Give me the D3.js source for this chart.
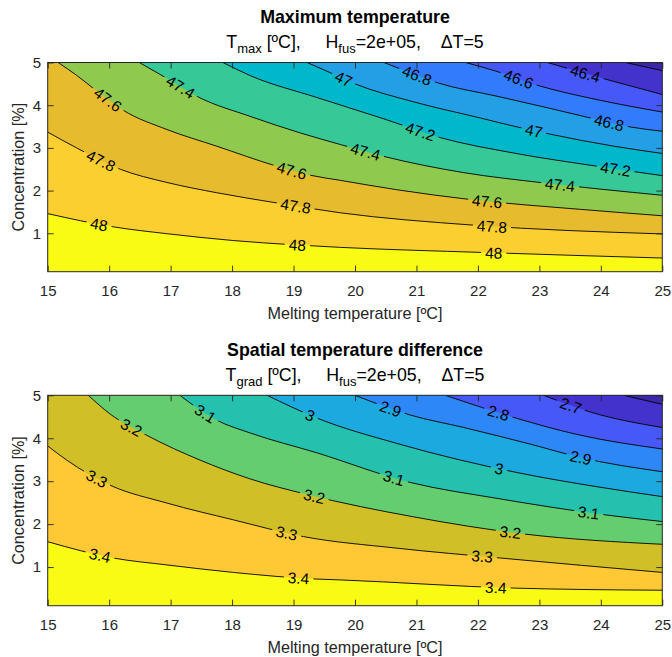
<!DOCTYPE html>
<html>
<head>
<meta charset="utf-8">
<script src="https://cdn.jsdelivr.net/npm/d3@7"></script>
<style>
  body { margin: 0; background: #fff; }
  svg text { font-family: "Liberation Sans", Arial, Helvetica, sans-serif; }
</style>
</head>
<body>
<svg id="fig" width="672" height="657"></svg>
<script>
// ---- axis ticks -------------------------------------------------------
const meltTicks = [15, 16, 17, 18, 19, 20, 21, 22, 23, 24, 25];
const concTicks = [1, 2, 3, 4, 5];
const meltRange = [15, 25];
const concRange = [0.1, 5];

// ---- maximum temperature: iso-lines as [melting T, concentration] ------
const tmaxLevels = [48, 47.8, 47.6, 47.4, 47.2, 47, 46.8, 46.6, 46.4, 46.2];
const tmaxLines = [
  [[15,1.46],[16.07,1.15],[16.94,0.99],[18.02,0.83],[19.0,0.73],[19.76,0.67],[22.09,0.55],[25,0.42]],
  [[15,3.37],[15.47,3.0],[16.18,2.5],[16.94,2.19],[17.75,1.95],[18.73,1.71],[19.76,1.48],[21.93,1.19],[25,0.985]],
  [[15.17,5],[15.47,4.7],[15.8,4.33],[16.23,3.88],[16.94,3.43],[17.75,3.04],[18.73,2.57],[19.27,2.36],[19.76,2.24],[20.68,2.02],[21.88,1.79],[23.67,1.56],[25,1.41]],
  [[16.49,5],[16.83,4.72],[17.48,4.17],[18.29,3.74],[19.11,3.35],[19.76,3.08],[20.47,2.8],[21.77,2.42],[23.07,2.18],[25,1.89]],
  [[17.85,5],[18.3,4.69],[19.38,4.18],[20.47,3.68],[21.39,3.24],[22.58,2.88],[23.94,2.57],[25,2.35]],
  [[19.22,5],[19.6,4.76],[20.0,4.5],[20.95,4.08],[22.04,3.7],[22.58,3.51],[23.18,3.32],[24.21,3.04],[25,2.87]],
  [[20.47,5],[20.74,4.85],[21.33,4.53],[22.31,4.21],[23.13,3.94],[23.83,3.7],[24.48,3.49],[25,3.39]],
  [[21.8,5],[22.31,4.79],[22.96,4.47],[23.94,4.13],[25,3.84]],
  [[23.13,5],[23.75,4.74],[24.1,4.6],[25,4.25]],
  [[24.4,5],[25,4.81]]
];
// inline contour labels: [level, melting T, concentration]
const tmaxLabels = [
  [48,15.84,1.22],[48,19.06,0.7],[48,22.26,0.53],
  [47.8,15.88,2.73],[47.8,19.03,1.6],[47.8,22.23,1.13],
  [47.6,15.96,4.09],[47.6,18.97,2.45],[47.6,22.15,1.75],
  [47.4,17.15,4.4],[47.4,20.17,2.9],[47.4,23.34,2.14],
  [47.2,21.06,3.35],[47.2,24.24,2.5],
  [47,19.81,4.6],[47,22.91,3.38],
  [46.8,21.01,4.7],[46.8,24.13,3.58],
  [46.6,22.66,4.6],
  [46.4,23.75,4.74]
];

// ---- spatial temperature difference -----------------------------------
const tgradLevels = [3.4, 3.3, 3.2, 3.1, 3.0, 2.9, 2.8, 2.7, 2.6];
const tgradLines = [
  [[15,1.59],[16.07,1.21],[16.94,1.05],[18.02,0.875],[19.38,0.72],[19.76,0.7],[22.58,0.51],[25,0.46]],
  [[15,3.82],[15.31,3.49],[16.01,2.91],[16.94,2.49],[18.02,2.1],[19.16,1.71],[20.68,1.44],[22.37,1.21],[25,0.875]],
  [[15.66,5],[16.01,4.57],[16.61,4.07],[17.48,3.49],[18.3,3.05],[19.22,2.69],[20.95,2.17],[22.75,1.77],[25,1.53]],
  [[17.15,5],[17.75,4.42],[18.3,4.12],[19.38,3.66],[20.9,2.97],[22.31,2.6],[24.1,2.21],[25,2.06]],
  [[18.57,5],[19.38,4.47],[20.68,3.88],[22.64,3.2],[23.94,2.87],[25,2.64]],
  [[20.0,5],[20.9,4.54],[21.77,4.25],[22.86,3.86],[23.67,3.55],[25,3.22]],
  [[21.47,5],[22.64,4.46],[23.67,4.07],[25,3.75]],
  [[23.07,5],[23.83,4.61],[25,4.25]],
  [[24.37,5],[25,4.79]]
];
const tgradLabels = [
  [3.4,15.85,1.29],[3.4,19.08,0.75],[3.4,22.29,0.52],
  [3.3,15.8,3.07],[3.3,18.89,1.78],[3.3,22.07,1.24],
  [3.2,16.37,4.26],[3.2,19.33,2.62],[3.2,22.53,1.82],
  [3.1,17.56,4.55],[3.1,20.63,3.05],[3.1,23.8,2.27],
  [3,19.27,4.54],[3,22.34,3.27],
  [2.9,20.57,4.65],[2.9,23.67,3.5],
  [2.8,22.34,4.6],
  [2.7,23.51,4.75]
];

// parula band colours: warmest band first, then the band just below each level
const tmaxBands = ['#F9FB14','#FCCF30','#E6BB2D','#8FCA4E','#37C897','#01B8CA','#23A0E5','#327CFC','#4758F8','#4332CB','#3E26A8'];
const tgradBands = ['#F9FB14','#FEC934','#D1BF27','#64CD6F','#24C1AE','#1CA9DF','#2E87F7','#4758F8','#4332CB','#3E26A8'];

// ---- drawing ----------------------------------------------------------
const svg = d3.select('#fig');
const axisColor = '#262626';
const left = 47.7, right = 662.3;

const panels = [
  { id: 'tmax', top: 62.5, bottom: 271.7, title: 'Maximum temperature', sub: 'max',
    levels: tmaxLevels, lines: tmaxLines, labels: tmaxLabels, bands: tmaxBands },
  { id: 'tgrad', top: 395.3, bottom: 605.7, title: 'Spatial temperature difference', sub: 'grad',
    levels: tgradLevels, lines: tgradLines, labels: tgradLabels, bands: tgradBands }
];

panels.forEach(p => {
  const x = d3.scaleLinear().domain(meltRange).range([left, right]);
  const y = d3.scaleLinear().domain(concRange).range([p.bottom, p.top]);
  const g = svg.append('g');
  const defs = g.append('defs');

  defs.append('clipPath').attr('id', 'clip-' + p.id)
    .append('rect').attr('x', left).attr('y', p.top)
    .attr('width', right - left).attr('height', p.bottom - p.top);

  const mask = defs.append('mask').attr('id', 'gap-' + p.id)
    .attr('maskUnits', 'userSpaceOnUse')
    .attr('x', 0).attr('y', 0).attr('width', 672).attr('height', 657);
  mask.append('rect').attr('x', 0).attr('y', 0).attr('width', 672).attr('height', 657).attr('fill', '#fff');

  const lineGen = d3.line().x(d => x(d[0])).y(d => y(d[1])).curve(d3.curveMonotoneX);

  // filled bands, painted from the warmest corner toward the coolest
  const fills = g.append('g').attr('clip-path', `url(#clip-${p.id})`);
  fills.append('rect').attr('x', left).attr('y', p.top)
    .attr('width', right - left).attr('height', p.bottom - p.top)
    .attr('fill', p.bands[0]);
  p.lines.forEach((pts, i) => {
    const start = pts[0];
    let d = lineGen(pts) + `L${x(meltRange[1])},${y(concRange[1])}`;
    if (start[0] <= meltRange[0]) d += `L${x(meltRange[0])},${y(concRange[1])}`;
    d += 'Z';
    fills.append('path').attr('d', d).attr('fill', p.bands[i + 1]).attr('stroke', 'none');
  });

  // iso-lines
  const lineG = g.append('g').attr('clip-path', `url(#clip-${p.id})`)
    .append('g').attr('mask', `url(#gap-${p.id})`);
  const paths = p.lines.map(pts =>
    lineG.append('path').attr('d', lineGen(pts)).attr('fill', 'none')
      .attr('stroke', '#000').attr('stroke-width', 0.9).node());

  // inline labels, placed on the nearest point of their line and turned along it
  const labelG = g.append('g');
  p.labels.forEach(([lev, lx, ly]) => {
    const k = p.levels.indexOf(lev);
    const path = paths[k];
    const total = path.getTotalLength();
    const tx = x(lx), ty = y(ly);
    let best = 0, bestD = Infinity;
    for (let s = 0; s <= total; s += 0.5) {
      const pt = path.getPointAtLength(s);
      const dd = (pt.x - tx) ** 2 + (pt.y - ty) ** 2;
      if (dd < bestD) { bestD = dd; best = s; }
    }
    const c = path.getPointAtLength(best);
    const a = path.getPointAtLength(Math.max(0, best - 4));
    const b = path.getPointAtLength(Math.min(total, best + 4));
    let ang = Math.atan2(b.y - a.y, b.x - a.x) * 180 / Math.PI;
    if (ang > 90) ang -= 180;
    if (ang < -90) ang += 180;
    const t = labelG.append('text')
      .attr('transform', `translate(${c.x},${c.y}) rotate(${ang})`)
      .attr('text-anchor', 'middle').attr('dy', '0.36em')
      .attr('font-size', 15.5).attr('fill', '#000')
      .text(String(lev));
    const w = t.node().getComputedTextLength();
    mask.append('rect')
      .attr('x', -w / 2 - 4).attr('y', -7).attr('width', w + 8).attr('height', 14)
      .attr('transform', `translate(${c.x},${c.y}) rotate(${ang})`)
      .attr('fill', '#000');
  });

  // axes with inward ticks on all four sides
  const tickLen = 6;
  const axB = g.append('g').attr('transform', `translate(0,${p.bottom})`)
    .call(d3.axisBottom(x).tickValues(meltTicks).tickFormat(d3.format('d'))
      .tickSize(-tickLen).tickSizeOuter(0).tickPadding(13.5));
  const axT = g.append('g').attr('transform', `translate(0,${p.top})`)
    .call(d3.axisTop(x).tickValues(meltTicks).tickSize(-tickLen).tickSizeOuter(0).tickFormat(''));
  const axL = g.append('g').attr('transform', `translate(${left},0)`)
    .call(d3.axisLeft(y).tickValues(concTicks).tickFormat(d3.format('d'))
      .tickSize(-tickLen).tickSizeOuter(0).tickPadding(6.5));
  const axR = g.append('g').attr('transform', `translate(${right},0)`)
    .call(d3.axisRight(y).tickValues(concTicks).tickSize(-tickLen).tickSizeOuter(0).tickFormat(''));
  [axB, axT, axL, axR].forEach(ax => {
    ax.select('.domain').remove();
    ax.selectAll('line').attr('stroke', axisColor).attr('stroke-width', 0.9);
    ax.selectAll('text').attr('fill', axisColor).attr('font-size', 15)
      .attr('font-family', '"Liberation Sans", Arial, sans-serif');
  });
  g.append('rect').attr('x', left).attr('y', p.top)
    .attr('width', right - left).attr('height', p.bottom - p.top)
    .attr('fill', 'none').attr('stroke', axisColor).attr('stroke-width', 1);

  // axis titles
  const cx = (left + right) / 2;
  g.append('text').attr('x', cx).attr('y', p.bottom + 47.5)
    .attr('text-anchor', 'middle').attr('font-size', 16.2).attr('fill', axisColor)
    .text('Melting temperature [ºC]');
  g.append('text')
    .attr('transform', `translate(24,${(p.top + p.bottom) / 2}) rotate(-90)`)
    .attr('text-anchor', 'middle').attr('font-size', 16.2).attr('fill', axisColor)
    .text('Concentration [%]');

  // title and subtitle
  g.append('text').attr('x', cx).attr('y', p.top - 39.5)
    .attr('text-anchor', 'middle').attr('font-size', 17.8).attr('font-weight', 'bold')
    .attr('fill', '#000').text(p.title);
  const st = g.append('text').attr('x', cx).attr('y', p.top - 14.5)
    .attr('text-anchor', 'middle').attr('font-size', 17.8).attr('fill', '#000')
    .style('white-space', 'pre');
  st.append('tspan').text('T');
  st.append('tspan').attr('dy', 5).attr('font-size', 13).text(p.sub);
  st.append('tspan').attr('dy', -5).text(' [ºC],     H');
  st.append('tspan').attr('dy', 5).attr('font-size', 13).text('fus');
  st.append('tspan').attr('dy', -5).text('=2e+05,    ΔT=5');
});
</script>
</body>
</html>
